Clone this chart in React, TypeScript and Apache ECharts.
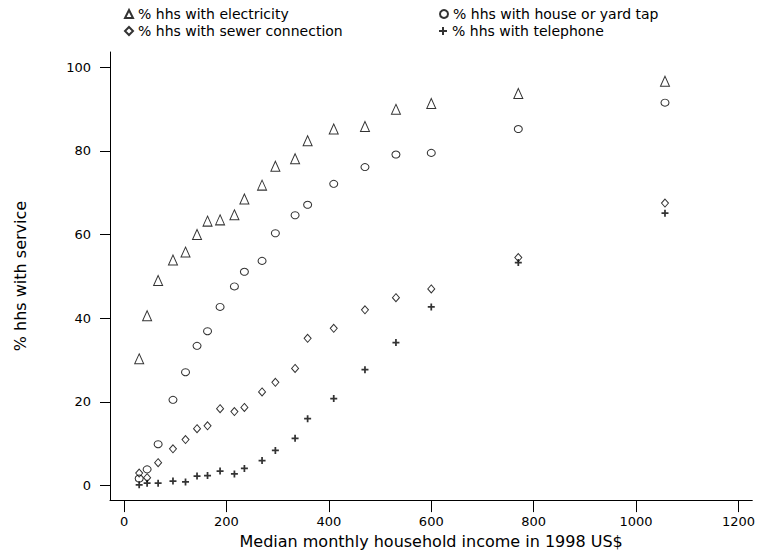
import React, { useEffect, useRef } from "react";
import * as echarts from "echarts";

const income = [29.5, 45, 66.5, 95.5, 120, 142.5, 163, 187.5, 215.5, 235, 269.5, 295.5, 334, 358.5, 409.5, 470.5, 531, 600, 770, 1056.5];
const electricity = [30.3, 40.6, 49.0, 53.9, 55.8, 60.0, 63.2, 63.5, 64.7, 68.5, 71.8, 76.3, 78.1, 82.4, 85.2, 85.8, 89.9, 91.3, 93.7, 96.6];
const houseTap = [1.7, 3.9, 9.9, 20.5, 27.1, 33.4, 36.9, 42.7, 47.6, 51.1, 53.7, 60.3, 64.6, 67.1, 72.1, 76.1, 79.1, 79.5, 85.2, 91.5];
const sewer = [3.0, 1.9, 5.5, 8.8, 11.0, 13.6, 14.3, 18.4, 17.7, 18.7, 22.4, 24.7, 28.0, 35.2, 37.6, 42.0, 44.9, 47.0, 54.5, 67.5];
const telephone = [0.2, 0.6, 0.6, 1.1, 0.9, 2.3, 2.4, 3.5, 2.8, 4.1, 6.0, 8.4, 11.3, 16.0, 20.8, 27.7, 34.2, 42.7, 53.3, 65.1];

const xTicks = [0, 200, 400, 600, 800, 1000, 1200];
const yTicks = [0, 20, 40, 60, 80, 100];

const names = [
  "% hhs with electricity",
  "% hhs with house or yard tap",
  "% hhs with sewer connection",
  "% hhs with telephone",
];

const FONT = "DejaVu Sans";
const PLUS = "path://M3,0h2v3h3v2h-3v3h-2v-3h-3v-2h3z";

function pairs(ys: number[]) {
  return ys.map((y, i) => [income[i], y]);
}

export default function App() {
  const ref = useRef<HTMLDivElement>(null);
  useEffect(() => {
    if (!ref.current) return;
    const chart = echarts.init(ref.current, null, { renderer: "svg" });
    const hollow = { color: "rgba(0,0,0,0)", borderColor: "#000", borderWidth: 1 };
    const legendText = { color: "#000", fontFamily: FONT, fontSize: 14 };
    const mkLegend = (name: string, left: number, top: number) => ({
      data: [name],
      left,
      top,
      padding: 0,
      itemWidth: 8,
      itemHeight: 8,
      itemGap: 5,
      selectedMode: false,
      textStyle: legendText,
    });
    chart.setOption({
      animation: false,
      backgroundColor: "#fff",
      textStyle: { fontFamily: FONT, color: "#000" },
      legend: [
        mkLegend(names[0], 124, 7),
        mkLegend(names[1], 439, 7),
        mkLegend(names[2], 124, 24),
        mkLegend(names[3], 439, 24),
      ],
      grid: { left: 110, top: 52, right: 0, bottom: 49, containLabel: false },
      xAxis: {
        type: "value",
        min: -27.5,
        max: 1227,
        name: "Median monthly household income in 1998 US$",
        nameLocation: "middle",
        nameGap: 32,
        nameTextStyle: { fontFamily: FONT, fontSize: 16, color: "#000" },
        axisLine: { show: true, onZero: false, lineStyle: { color: "#000", width: 1 } },
        axisTick: { show: true, length: 12, customValues: xTicks, lineStyle: { color: "#000" } },
        axisLabel: {
          customValues: xTicks,
          margin: 15,
          fontFamily: FONT,
          fontSize: 13,
          color: "#000",
          formatter: (v: number) => String(v),
        },
        splitLine: { show: false },
      },
      yAxis: {
        type: "value",
        min: -3.45,
        max: 103.6,
        name: "% hhs with service",
        nameLocation: "middle",
        nameRotate: 90,
        nameGap: 82,
        nameTextStyle: { fontFamily: FONT, fontSize: 16, color: "#000" },
        axisLine: { show: true, onZero: false, lineStyle: { color: "#000", width: 1 } },
        axisTick: { show: true, length: 10, customValues: yTicks, lineStyle: { color: "#000" } },
        axisLabel: {
          customValues: yTicks,
          margin: 19,
          fontFamily: FONT,
          fontSize: 13,
          color: "#000",
          formatter: (v: number) => String(v),
        },
        splitLine: { show: false },
      },
      series: [
        {
          name: names[0],
          type: "scatter",
          symbol: "triangle",
          symbolSize: [9, 10],
          itemStyle: hollow,
          data: pairs(electricity),
        },
        {
          name: names[1],
          type: "scatter",
          symbol: "circle",
          symbolSize: [8, 7],
          itemStyle: hollow,
          data: pairs(houseTap),
        },
        {
          name: names[2],
          type: "scatter",
          symbol: "diamond",
          symbolSize: [7, 8],
          itemStyle: hollow,
          data: pairs(sewer),
        },
        {
          name: names[3],
          type: "scatter",
          symbol: PLUS,
          symbolSize: 7,
          itemStyle: { color: "#000" },
          data: pairs(telephone),
        },
      ],
    });
    return () => chart.dispose();
  }, []);
  return <div ref={ref} style={{ width: 758, height: 554, position: "absolute", left: 0, top: 0 }} />;
}
